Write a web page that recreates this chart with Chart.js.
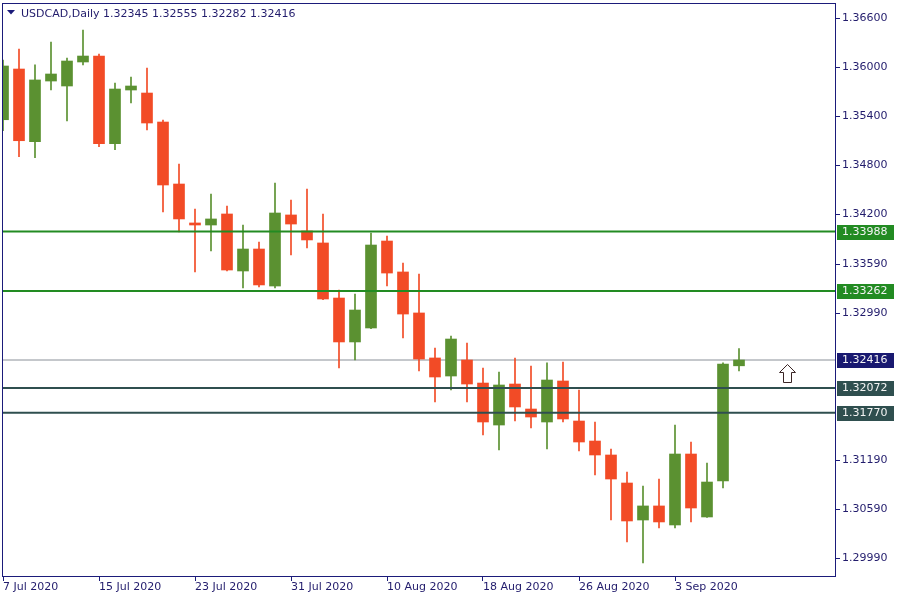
<!DOCTYPE html>
<html>
<head>
<meta charset="utf-8">
<title>USDCAD, Daily</title>
<script src="https://cdn.jsdelivr.net/npm/chart.js@4.4.1/dist/chart.umd.min.js"></script>
<style>
  html, body { margin: 0; padding: 0; background: #fff; }
  #wrap { width: 900px; height: 600px; }
</style>
</head>
<body>
<div id="wrap"><canvas id="chart" width="900" height="600"></canvas></div>
<script>
// daily bars
const dates = [
  '7 Jul 2020', '8 Jul 2020', '9 Jul 2020', '10 Jul 2020', '13 Jul 2020', '14 Jul 2020',
  '15 Jul 2020', '16 Jul 2020', '17 Jul 2020', '20 Jul 2020', '21 Jul 2020', '22 Jul 2020',
  '23 Jul 2020', '24 Jul 2020', '27 Jul 2020', '28 Jul 2020', '29 Jul 2020', '30 Jul 2020',
  '31 Jul 2020', '3 Aug 2020', '4 Aug 2020', '5 Aug 2020', '6 Aug 2020', '7 Aug 2020',
  '10 Aug 2020', '11 Aug 2020', '12 Aug 2020', '13 Aug 2020', '14 Aug 2020', '17 Aug 2020',
  '18 Aug 2020', '19 Aug 2020', '20 Aug 2020', '21 Aug 2020', '24 Aug 2020', '25 Aug 2020',
  '26 Aug 2020', '27 Aug 2020', '28 Aug 2020', '31 Aug 2020', '1 Sep 2020', '2 Sep 2020',
  '3 Sep 2020', '4 Sep 2020', '7 Sep 2020', '8 Sep 2020', '9 Sep 2020'
];
const opens = [
  1.35358, 1.35979, 1.35089, 1.35832, 1.35771, 1.36065, 1.36138, 1.35065, 1.35722, 1.35685,
  1.35330, 1.34571, 1.34094, 1.34069, 1.34204, 1.33506, 1.33775, 1.33322, 1.34192, 1.33996,
  1.33849, 1.33175, 1.32637, 1.32808, 1.33873, 1.33494, 1.32992, 1.32441, 1.32220, 1.32416,
  1.32134, 1.31620, 1.32122, 1.31816, 1.31657, 1.32159, 1.31669, 1.31424, 1.31253, 1.30910,
  1.30457, 1.30629, 1.30396, 1.31265, 1.30494, 1.30935, 1.32345
];
const highs = [
  1.36089, 1.36224, 1.36030, 1.36310, 1.36114, 1.36457, 1.36163, 1.35808, 1.35881, 1.35991,
  1.35355, 1.34816, 1.34265, 1.34449, 1.34302, 1.34069, 1.33861, 1.34583, 1.34375, 1.34510,
  1.34204, 1.33273, 1.33224, 1.33971, 1.33934, 1.33604, 1.33469, 1.32563, 1.32710, 1.32624,
  1.32318, 1.32269, 1.32441, 1.32343, 1.32380, 1.32392, 1.32049, 1.31657, 1.31326, 1.31045,
  1.30873, 1.30959, 1.31620, 1.31412, 1.31155, 1.32380, 1.32555
];
const lows = [
  1.35224, 1.34905, 1.34893, 1.35722, 1.35343, 1.36030, 1.35028, 1.34991, 1.35563, 1.35232,
  1.34228, 1.33983, 1.33494, 1.33751, 1.33506, 1.33298, 1.33310, 1.33298, 1.33702, 1.33788,
  1.33155, 1.32318, 1.32417, 1.32800, 1.33322, 1.32686, 1.32282, 1.31902, 1.32049, 1.31902,
  1.31498, 1.31314, 1.31669, 1.31584, 1.31326, 1.31657, 1.31302, 1.31008, 1.30457, 1.30188,
  1.29931, 1.30359, 1.30359, 1.30433, 1.30490, 1.30849, 1.32282
];
const closes = [
  1.36016, 1.35101, 1.35845, 1.35918, 1.36077, 1.36138, 1.35065, 1.35734, 1.35771, 1.35318,
  1.34559, 1.34143, 1.34069, 1.34143, 1.33518, 1.33775, 1.33335, 1.34216, 1.34081, 1.33886,
  1.33163, 1.32637, 1.33028, 1.33824, 1.33481, 1.32979, 1.32428, 1.32208, 1.32673, 1.32122,
  1.31657, 1.32110, 1.31841, 1.31718, 1.32171, 1.31694, 1.31412, 1.31253, 1.30959, 1.30445,
  1.30629, 1.30433, 1.31265, 1.30604, 1.30922, 1.32367, 1.32416
];
const priceTicks = [1.366, 1.360, 1.354, 1.348, 1.342, 1.3359, 1.3299, 1.3119, 1.3059, 1.2999];
const resistanceLevels = [1.33988, 1.33262];
const supportLevels = [1.32072, 1.31770];
const bidPrice = 1.32416;
const arrowMark = { index: 49, price: 1.3237 };

const UP = '#5b9131';
const DOWN = '#f24b26';
const NAVY = '#1b1b7a';
const TEXT = '#221c6c';
const EMPTY_SLOTS = 6; // room on the right of the last bar

Chart.defaults.font.family = 'DejaVu Sans';
Chart.defaults.font.size = 11;

const labels = dates.concat(new Array(EMPTY_SLOTS).fill(''));
const lastSlot = labels.length - 1;
const candleColor = closes.map((c, i) => c >= opens[i] ? UP : DOWN);

function levelLine(value, color, width) {
  return {
    type: 'line',
    parsing: false,
    data: [{ x: 0, y: value }, { x: lastSlot, y: value }],
    borderColor: color,
    borderWidth: width,
    pointRadius: 0,
    tension: 0,
    clip: 0,
    order: 0
  };
}

// frame, header, price boxes, arrow
const overlay = {
  id: 'overlay',
  afterDatasetsDraw(chart) {
    const ctx = chart.ctx;
    const a = chart.chartArea;
    const y = chart.scales.y;
    const x = chart.scales.x;
    ctx.save();
    ctx.strokeStyle = NAVY;
    ctx.lineWidth = 1;
    ctx.strokeRect(a.left - 0.5, a.top + 0.5, a.right - a.left + 1, a.bottom - a.top);

    // price boxes on the axis
    const boxes = [
      [resistanceLevels[0], '#228b22'],
      [resistanceLevels[1], '#228b22'],
      [bidPrice, '#191970'],
      [supportLevels[0], '#2f4f4f'],
      [supportLevels[1], '#2f4f4f']
    ];
    ctx.font = '11px "DejaVu Sans"';
    ctx.textBaseline = 'middle';
    ctx.textAlign = 'left';
    boxes.forEach(([v, c]) => {
      const py = Math.round(y.getPixelForValue(v));
      ctx.fillStyle = c;
      ctx.fillRect(a.right + 2, py - 7, 57, 15);
      ctx.fillStyle = '#f4f4f4';
      ctx.fillText(v.toFixed(5), a.right + 7, py + 0.5);
    });

    // header
    const last = dates.length - 1;
    ctx.fillStyle = NAVY;
    ctx.beginPath();
    ctx.moveTo(7, 10); ctx.lineTo(15, 10); ctx.lineTo(11, 14.5); ctx.closePath();
    ctx.fill();
    ctx.fillStyle = TEXT;
    ctx.textBaseline = 'alphabetic';
    ctx.fillText('USDCAD,Daily', 21, 17);
    ctx.fillText([opens[last], highs[last], lows[last], closes[last]].map(v => v.toFixed(5)).join(' '), 103, 17);

    // up arrow
    const ax = Math.round(x.getPixelForValue(arrowMark.index)) + 0.5;
    const ay = Math.round(y.getPixelForValue(arrowMark.price)) + 0.5;
    ctx.beginPath();
    ctx.moveTo(ax, ay);
    ctx.lineTo(ax + 8, ay + 8);
    ctx.lineTo(ax + 4, ay + 8);
    ctx.lineTo(ax + 4, ay + 18);
    ctx.lineTo(ax - 4, ay + 18);
    ctx.lineTo(ax - 4, ay + 8);
    ctx.lineTo(ax - 8, ay + 8);
    ctx.closePath();
    ctx.fillStyle = '#ffffff';
    ctx.fill();
    ctx.strokeStyle = '#3b2626';
    ctx.stroke();
    ctx.restore();
  }
};

new Chart(document.getElementById('chart'), {
  type: 'bar',
  data: {
    labels: labels,
    datasets: [
      levelLine(resistanceLevels[0], '#228b22', 2),
      levelLine(resistanceLevels[1], '#228b22', 2),
      levelLine(supportLevels[0], '#2f4f4f', 2),
      levelLine(supportLevels[1], '#2f4f4f', 2),
      Object.assign(levelLine(bidPrice, '#8a9098', 1), { order: 3 }),
      {
        label: 'body',
        data: opens.map((o, i) => [o, closes[i]]),
        backgroundColor: candleColor,
        barThickness: 11,
        minBarLength: 1,
        grouped: false,
        borderWidth: 0,
        clip: 0,
        order: 1
      },
      {
        label: 'wick',
        data: lows.map((l, i) => [l, highs[i]]),
        backgroundColor: candleColor,
        barThickness: 1,
        grouped: false,
        borderWidth: 0,
        clip: 0,
        order: 2
      }
    ]
  },
  options: {
    responsive: false,
    animation: false,
    events: [],
    layout: { padding: { left: 3, top: 3, right: 0, bottom: 0 } },
    plugins: { legend: { display: false }, tooltip: { enabled: false } },
    scales: {
      x: {
        type: 'category',
        offset: false,
        border: { display: false },
        grid: {
          offset: false,
          drawOnChartArea: false,
          tickLength: 5,
          tickColor: c => (c.index % 6 === 0 && c.index < dates.length) ? NAVY : 'rgba(0,0,0,0)'
        },
        ticks: {
          autoSkip: false,
          maxRotation: 0,
          minRotation: 0,
          align: 'start',
          padding: 0,
          color: TEXT,
          callback: (v, i) => (i % 6 === 0 && i < dates.length) ? dates[i] : ''
        },
        afterFit: s => { s.height = 24; s.paddingLeft = 0; s.paddingRight = 0; }
      },
      y: {
        position: 'right',
        min: 1.297713,
        max: 1.367873,
        border: { display: false },
        grid: { drawOnChartArea: false, tickLength: 5, tickColor: NAVY },
        afterBuildTicks: s => { s.ticks = priceTicks.map(v => ({ value: v })); },
        ticks: {
          padding: 2,
          color: TEXT,
          callback: v => v.toFixed(5)
        },
        afterFit: s => { s.width = 65; s.paddingTop = 0; s.paddingBottom = 0; }
      }
    }
  },
  plugins: [overlay]
});
</script>
</body>
</html>
